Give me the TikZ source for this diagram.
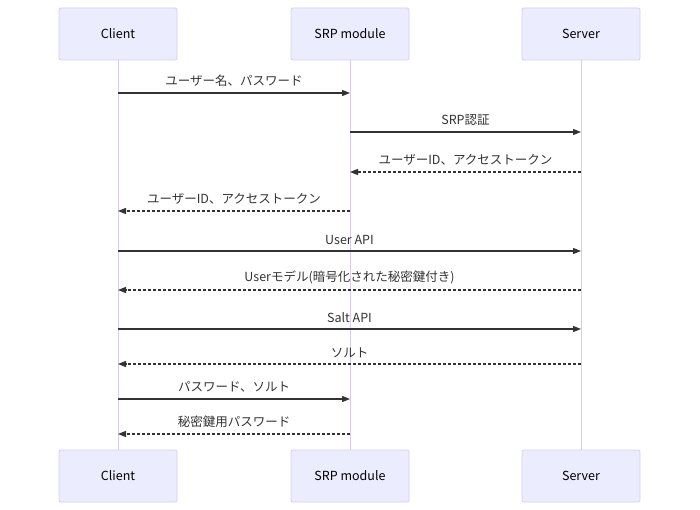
\documentclass[tikz,border=0pt]{standalone}
\usepackage{fontspec}
\setmainfont{Noto Sans CJK JP}
\usetikzlibrary{arrows.meta}
\definecolor{actfill}{HTML}{ECECFF}
\definecolor{actline}{HTML}{D9CCF2}
\definecolor{msgcol}{HTML}{333333}
\tikzset{
  actor/.style={draw=actline, fill=actfill, rounded corners=2pt, minimum width=118pt, minimum height=52pt, inner sep=0pt, font=\fontsize{12.5}{14}\selectfont, text=black, line width=0.8pt},
  life/.style={draw=actline, line width=1pt},
  msg/.style={draw=msgcol, line width=1.1pt, -{Triangle[length=8pt,width=6pt]}},
  reply/.style={msg, dash pattern=on 3pt off 2pt},
  lbl/.style={font=\fontsize{12.5}{14}\selectfont, text=msgcol, inner sep=0pt, anchor=base}
}
\begin{document}
\begin{tikzpicture}[x=1pt,y=-1pt]
\useasboundingbox (0,0) rectangle (700,510);
\node[actor] (cT) at (118,34) {Client};
\node[actor] (sT) at (350,34) {SRP module};
\node[actor] (vT) at (581,34) {Server};
\node[actor] (cB) at (118,476) {Client};
\node[actor] (sB) at (350,476) {SRP module};
\node[actor] (vB) at (581,476) {Server};
\draw[life] (cT) -- (cB);
\draw[life] (sT) -- (sB);
\draw[life] (vT) -- (vB);
\foreach \n/\y in {1/93,2/132,3/172,4/211,5/251,6/290,7/329,8/364,9/399,10/434}{
  \coordinate (mc\n) at (118,\y);
  \coordinate (ms\n) at (350,\y);
  \coordinate (mv\n) at (581,\y);
}
\draw[msg] (mc1) -- node[lbl, above=6pt] {ユーザー名、パスワード} (ms1);
\draw[msg] (ms2) -- node[lbl, above=6pt] {SRP認証} (mv2);
\draw[reply] (mv3) -- node[lbl, above=6pt] {ユーザーID、アクセストークン} (ms3);
\draw[reply] (ms4) -- node[lbl, above=6pt] {ユーザーID、アクセストークン} (mc4);
\draw[msg] (mc5) -- node[lbl, above=6pt] {User API} (mv5);
\draw[reply] (mv6) -- node[lbl, above=6pt] {Userモデル(暗号化された秘密鍵付き)} (mc6);
\draw[msg] (mc7) -- node[lbl, above=6pt] {Salt API} (mv7);
\draw[reply] (mv8) -- node[lbl, above=6pt] {ソルト} (mc8);
\draw[msg] (mc9) -- node[lbl, above=6pt] {パスワード、ソルト} (ms9);
\draw[reply] (ms10) -- node[lbl, above=6pt] {秘密鍵用パスワード} (mc10);
\end{tikzpicture}
\end{document}
